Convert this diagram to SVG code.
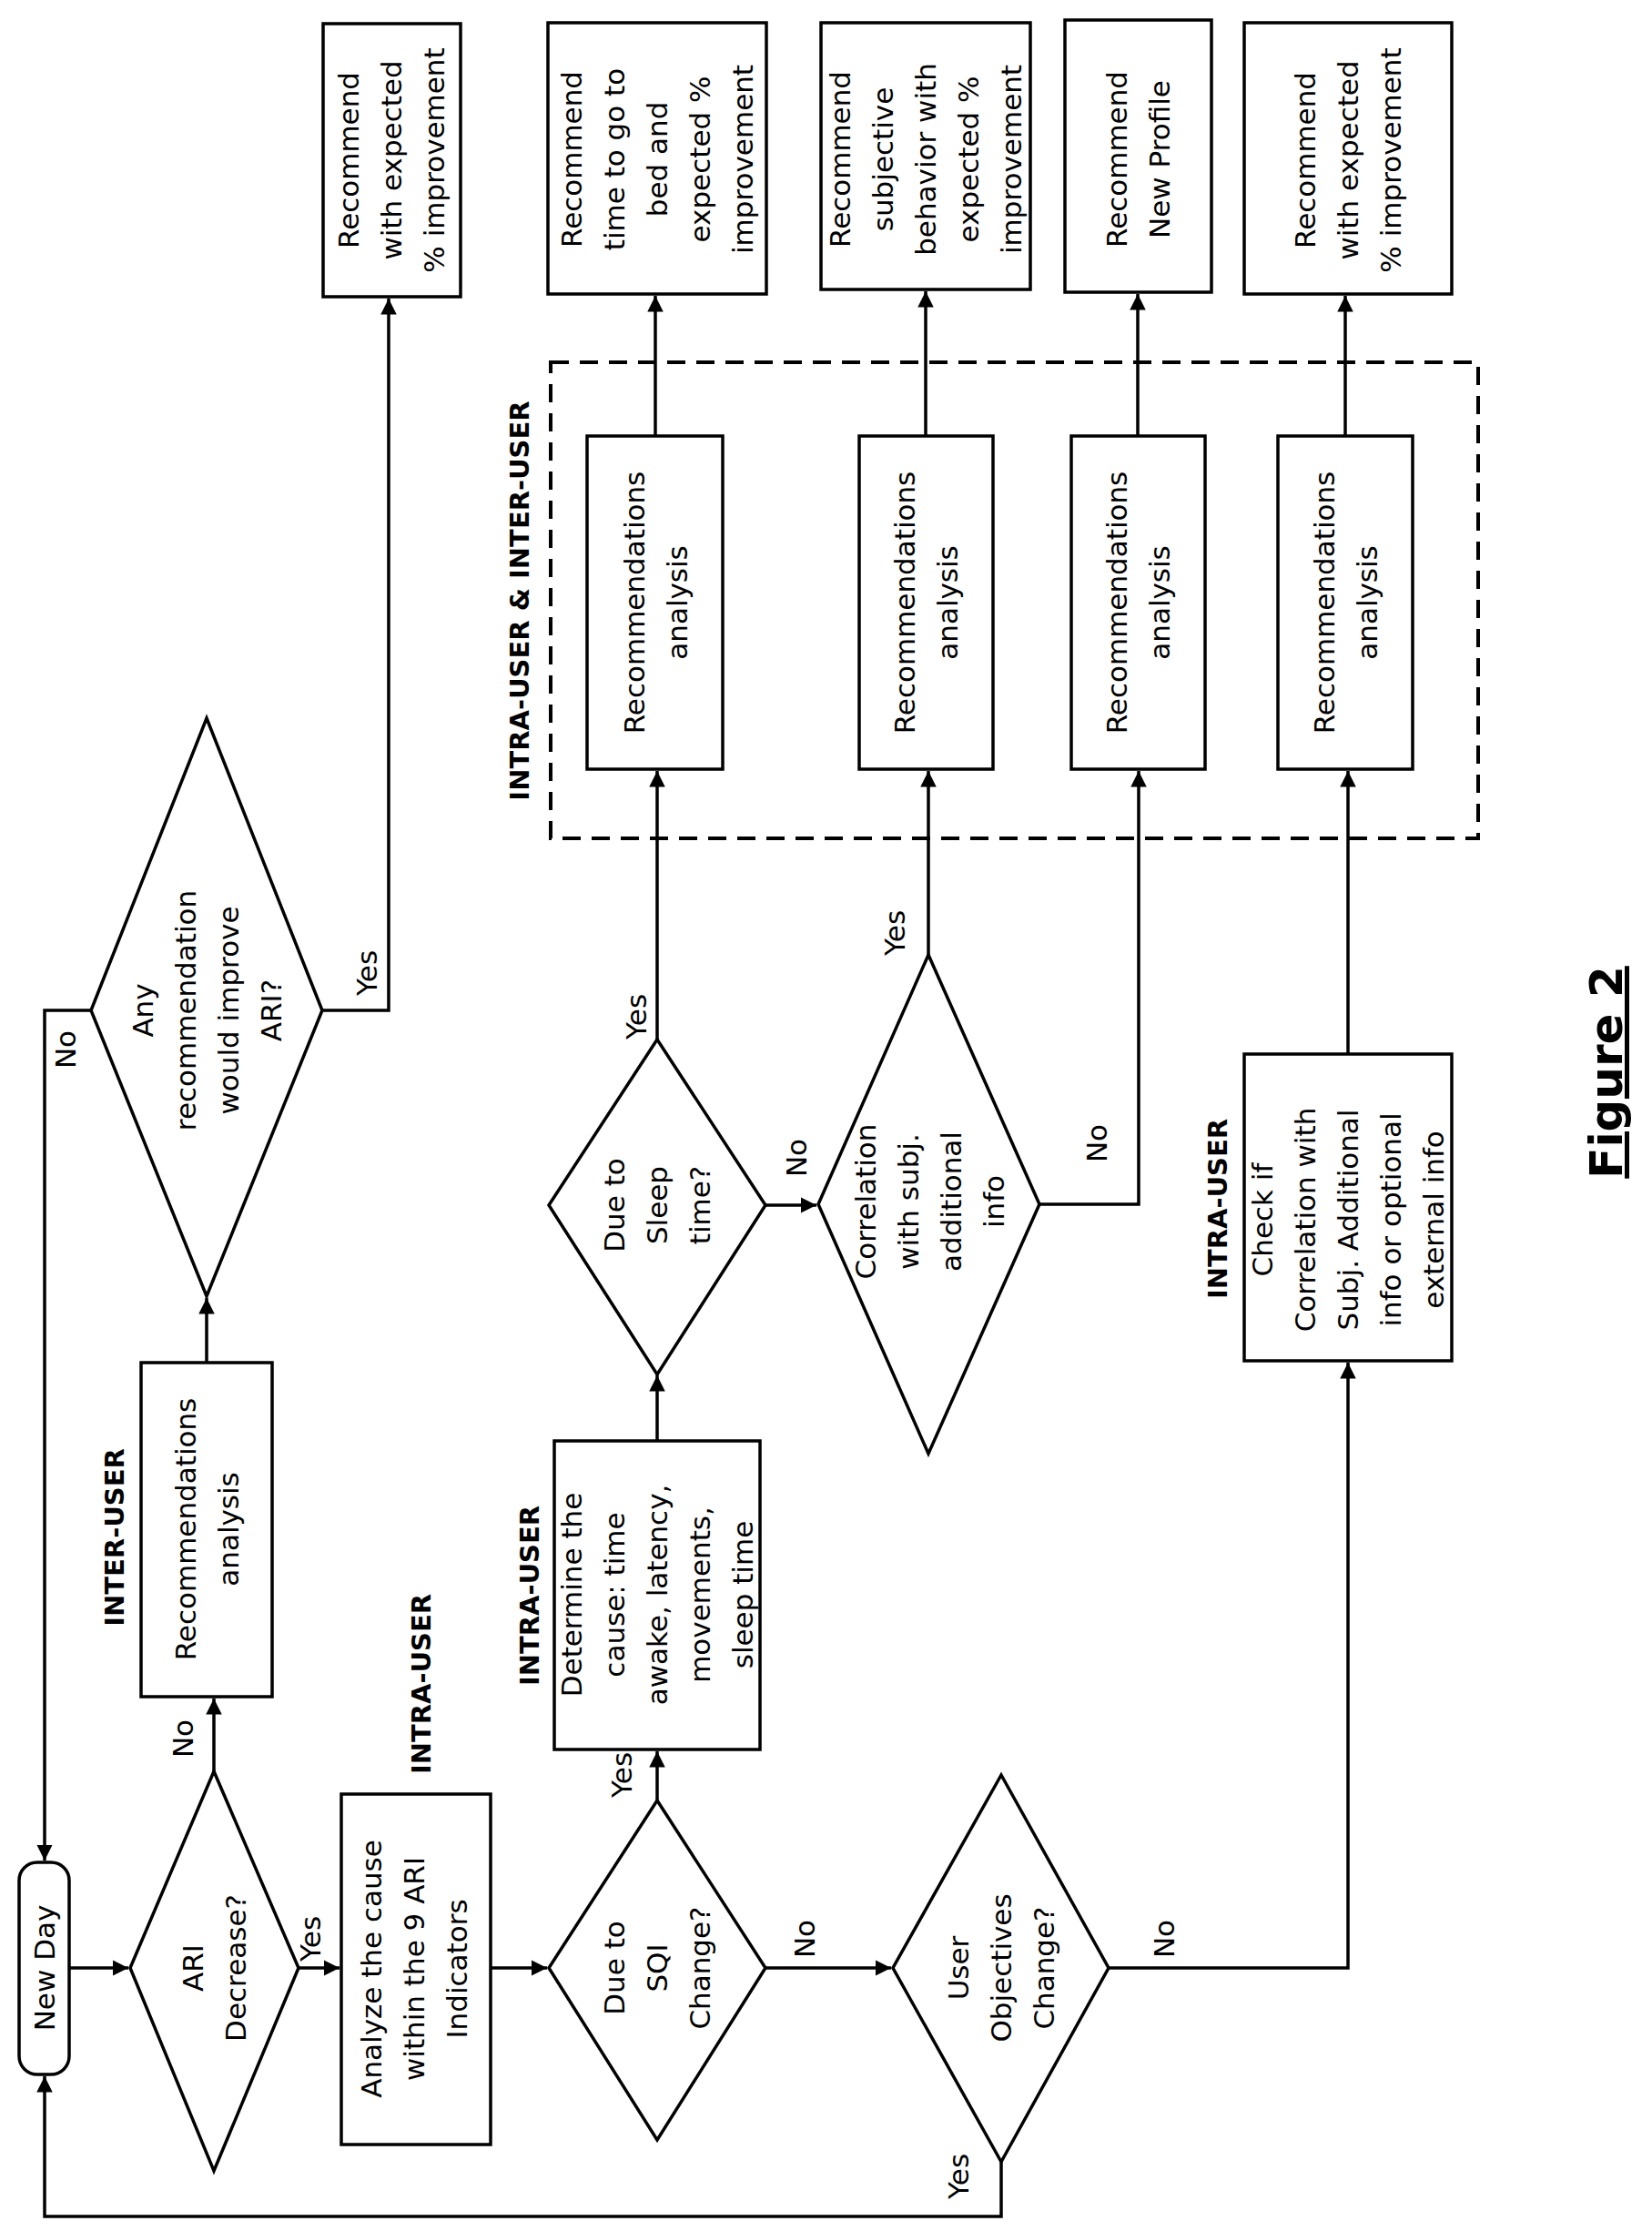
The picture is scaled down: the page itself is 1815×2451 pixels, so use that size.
<svg xmlns="http://www.w3.org/2000/svg" width="1815" height="2451" viewBox="0 0 1815 2451">
<style>
.s{fill:#fff;stroke:#000;stroke-width:3.5}
.c{fill:none;stroke:#000;stroke-width:3.5}
.t{font-family:"DejaVu Sans",sans-serif;font-size:31px;text-anchor:middle;fill:#000}
.b{font-family:"DejaVu Sans",sans-serif;font-size:29px;font-weight:bold;text-anchor:middle;fill:#000}
.l{font-family:"DejaVu Sans",sans-serif;font-size:31px;text-anchor:middle;fill:#000}
</style>
<defs>
<marker id="a" viewBox="0 0 10 10" refX="10" refY="5" markerWidth="5" markerHeight="5" orient="auto"><path d="M0,0L10,5L0,10z" fill="#000"/></marker>
</defs>
<rect x="0" y="0" width="1815" height="2451" fill="#fff"/>
<g id="connectors" class="c" marker-end="url(#a)">
<path d="M76,2162H141" marker-end="url(#a)"/>
<path d="M328,2162H373" marker-end="url(#a)"/>
<path d="M539,2162H601" marker-end="url(#a)"/>
<path d="M841,2162H979" marker-end="url(#a)"/>
<path d="M1218,2162H1481V1497" marker-end="url(#a)"/>
<path d="M1100,2375V2435H49V2281" marker-end="url(#a)"/>
<path d="M235,1946V1866" marker-end="url(#a)"/>
<path d="M227,1497V1426" marker-end="url(#a)"/>
<path d="M100,1110H49V2044" marker-end="url(#a)"/>
<path d="M354,1110H427V328" marker-end="url(#a)"/>
<path d="M722,1978V1924" marker-end="url(#a)"/>
<path d="M722,1583V1511" marker-end="url(#a)"/>
<path d="M841,1324H897" marker-end="url(#a)"/>
<path d="M722,1142V847" marker-end="url(#a)"/>
<path d="M1020,1049V847" marker-end="url(#a)"/>
<path d="M1142,1323H1251V847" marker-end="url(#a)"/>
<path d="M1481,1158V847" marker-end="url(#a)"/>
<path d="M720,479V325" marker-end="url(#a)"/>
<path d="M1017,479V320" marker-end="url(#a)"/>
<path d="M1250,479V323" marker-end="url(#a)"/>
<path d="M1478,479V325" marker-end="url(#a)"/>
</g>
<g id="dashed"><rect x="605" y="398" width="1019" height="523" fill="none" stroke="#000" stroke-width="4" stroke-dasharray="20,12"/>
<text class="b" transform="translate(581,660) rotate(-90)">INTRA-USER &amp; INTER-USER</text></g>
<g id="newday"><rect class="s" x="21" y="2046" width="55" height="233" rx="20"/>
<text class="t" transform="translate(49,2162) rotate(-90)"><tspan x="0" dy="11">New Day</tspan></text></g>
<g id="ari"><polygon class="s" points="235,1946 328,2162 235,2385 143,2162"/>
<text class="t" transform="translate(235,2162) rotate(-90)"><tspan x="0" dy="-12">ARI</tspan><tspan x="0" dy="47">Decrease?</tspan></text></g>
<g id="analyze"><rect class="s" x="375" y="1971" width="164" height="385"/>
<text class="t" transform="translate(466,2163) rotate(-90)"><tspan x="0" dy="-47">Analyze the cause</tspan><tspan x="0" dy="47">within the 9 ARI</tspan><tspan x="0" dy="47">Indicators</tspan></text>
<text class="b" transform="translate(473,1850) rotate(-90)">INTRA-USER</text></g>
<g id="sqi"><polygon class="s" points="722,1978 841,2162 722,2351 603,2162"/>
<text class="t" transform="translate(722,2162) rotate(-90)"><tspan x="0" dy="-36">Due to</tspan><tspan x="0" dy="47">SQI</tspan><tspan x="0" dy="47">Change?</tspan></text></g>
<g id="uo"><polygon class="s" points="1100,1950 1218,2162 1100,2375 981,2162"/>
<text class="t" transform="translate(1100,2162) rotate(-90)"><tspan x="0" dy="-36">User</tspan><tspan x="0" dy="47">Objectives</tspan><tspan x="0" dy="47">Change?</tspan></text></g>
<g id="inter"><rect class="s" x="155" y="1497" width="144" height="367"/>
<text class="t" transform="translate(227,1680) rotate(-90)"><tspan x="0" dy="-12">Recommendations</tspan><tspan x="0" dy="47">analysis</tspan></text>
<text class="b" transform="translate(136,1689) rotate(-90)">INTER-USER</text></g>
<g id="anyrec"><polygon class="s" points="227,789 354,1110 227,1424 100,1110"/>
<text class="t" transform="translate(227,1110) rotate(-90)"><tspan x="0" dy="-59">Any</tspan><tspan x="0" dy="47">recommendation</tspan><tspan x="0" dy="47">would improve</tspan><tspan x="0" dy="47">ARI?</tspan></text></g>
<g id="out0"><rect class="s" x="355" y="26" width="151" height="300"/>
<text class="t" transform="translate(430,176) rotate(-90)"><tspan x="0" dy="-36">Recommend</tspan><tspan x="0" dy="47">with expected</tspan><tspan x="0" dy="47">% improvement</tspan></text></g>
<g id="determine"><rect class="s" x="609" y="1583" width="226" height="339"/>
<text class="t" transform="translate(722,1752) rotate(-90)"><tspan x="0" dy="-83">Determine the</tspan><tspan x="0" dy="47">cause: time</tspan><tspan x="0" dy="47">awake, latency,</tspan><tspan x="0" dy="47">movements,</tspan><tspan x="0" dy="47">sleep time</tspan></text>
<text class="b" transform="translate(592,1753) rotate(-90)">INTRA-USER</text></g>
<g id="sleep"><polygon class="s" points="722,1142 841,1324 722,1510 603,1324"/>
<text class="t" transform="translate(722,1324) rotate(-90)"><tspan x="0" dy="-36">Due to</tspan><tspan x="0" dy="47">Sleep</tspan><tspan x="0" dy="47">time?</tspan></text></g>
<g id="corr"><polygon class="s" points="1020,1049 1142,1323 1020,1597 899,1323"/>
<text class="t" transform="translate(1021,1320) rotate(-90)"><tspan x="0" dy="-59">Correlation</tspan><tspan x="0" dy="47">with subj.</tspan><tspan x="0" dy="47">additional</tspan><tspan x="0" dy="47">info</tspan></text></g>
<g id="checkif"><rect class="s" x="1367" y="1158" width="228" height="337"/>
<text class="t" transform="translate(1481,1340) rotate(-90)"><tspan x="0" dy="-83">Check if</tspan><tspan x="0" dy="47">Correlation with</tspan><tspan x="0" dy="47">Subj. Additional</tspan><tspan x="0" dy="47">info or optional</tspan><tspan x="0" dy="47">external info</tspan></text>
<text class="b" transform="translate(1348,1328) rotate(-90)">INTRA-USER</text></g>
<g id="rec1"><rect class="s" x="645" y="479" width="149" height="366"/>
<text class="t" transform="translate(720,662) rotate(-90)"><tspan x="0" dy="-12">Recommendations</tspan><tspan x="0" dy="47">analysis</tspan></text></g>
<g id="rec2"><rect class="s" x="944" y="479" width="147" height="366"/>
<text class="t" transform="translate(1017,662) rotate(-90)"><tspan x="0" dy="-12">Recommendations</tspan><tspan x="0" dy="47">analysis</tspan></text></g>
<g id="rec3"><rect class="s" x="1177" y="479" width="147" height="366"/>
<text class="t" transform="translate(1250,662) rotate(-90)"><tspan x="0" dy="-12">Recommendations</tspan><tspan x="0" dy="47">analysis</tspan></text></g>
<g id="rec4"><rect class="s" x="1404" y="479" width="148" height="366"/>
<text class="t" transform="translate(1478,662) rotate(-90)"><tspan x="0" dy="-12">Recommendations</tspan><tspan x="0" dy="47">analysis</tspan></text></g>
<g id="outA"><rect class="s" x="602" y="25" width="240" height="298"/>
<text class="t" transform="translate(722,175) rotate(-90)"><tspan x="0" dy="-83">Recommend</tspan><tspan x="0" dy="47">time to go to</tspan><tspan x="0" dy="47">bed and</tspan><tspan x="0" dy="47">expected %</tspan><tspan x="0" dy="47">improvement</tspan></text></g>
<g id="outB"><rect class="s" x="902" y="25" width="230" height="293"/>
<text class="t" transform="translate(1017,175) rotate(-90)"><tspan x="0" dy="-83">Recommend</tspan><tspan x="0" dy="47">subjective</tspan><tspan x="0" dy="47">behavior with</tspan><tspan x="0" dy="47">expected %</tspan><tspan x="0" dy="47">improvement</tspan></text></g>
<g id="outC"><rect class="s" x="1170" y="22" width="161" height="299"/>
<text class="t" transform="translate(1250,175) rotate(-90)"><tspan x="0" dy="-12">Recommend</tspan><tspan x="0" dy="47">New Profile</tspan></text></g>
<g id="outD"><rect class="s" x="1367" y="25" width="228" height="298"/>
<text class="t" transform="translate(1481,176) rotate(-90)"><tspan x="0" dy="-36">Recommend</tspan><tspan x="0" dy="47">with expected</tspan><tspan x="0" dy="47">% improvement</tspan></text></g>
<g id="labels" class="l">
<text class="l" transform="translate(352,2130) rotate(-90)">Yes</text>
<text class="l" transform="translate(212,1910) rotate(-90)">No</text>
<text class="l" transform="translate(895,2130) rotate(-90)">No</text>
<text class="l" transform="translate(1290,2130) rotate(-90)">No</text>
<text class="l" transform="translate(1064,2391) rotate(-90)">Yes</text>
<text class="l" transform="translate(694,1950) rotate(-90)">Yes</text>
<text class="l" transform="translate(886,1272) rotate(-90)">No</text>
<text class="l" transform="translate(1216,1256) rotate(-90)">No</text>
<text class="l" transform="translate(710,1117) rotate(-90)">Yes</text>
<text class="l" transform="translate(994,1025) rotate(-90)">Yes</text>
<text class="l" transform="translate(83,1153) rotate(-90)">No</text>
<text class="l" transform="translate(414,1069) rotate(-90)">Yes</text>
</g>
<g id="title"><text transform="translate(1782,1178) rotate(-90)" font-family="DejaVu Sans, sans-serif" font-size="50" font-weight="bold" text-anchor="middle" text-decoration="underline">Figure 2</text></g>
</svg>
